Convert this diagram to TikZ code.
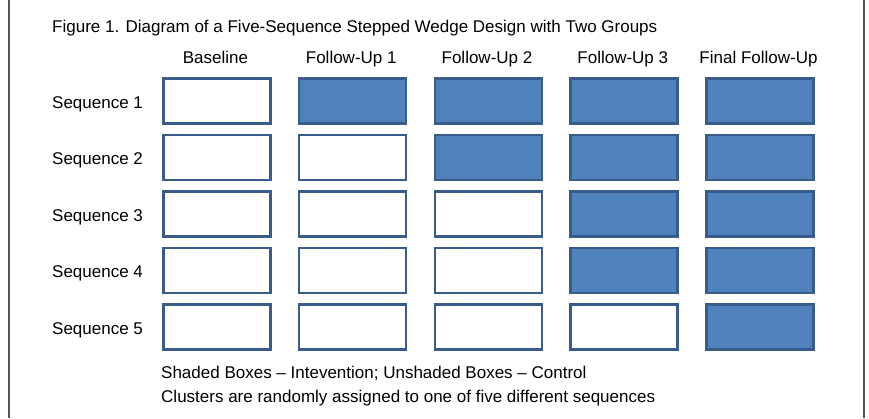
\documentclass[tikz,border=0pt]{standalone}
\usepackage{fontspec}
\setmainfont{Liberation Sans}
\definecolor{boxfill}{HTML}{4F81BD}
\definecolor{boxedge}{HTML}{385D8A}
\definecolor{framegray}{HTML}{555555}
\begin{document}
\begin{tikzpicture}[x=1pt,y=-1pt,
  txt/.style={inner sep=0pt,font=\fontsize{17}{20}\selectfont},
  cell/.style={draw=boxedge,line width=2.7pt,minimum width=107pt,minimum height=45pt,inner sep=0pt,anchor=north west},
  ctrl/.style={cell,fill=white},
  intv/.style={cell,fill=boxfill}]
\useasboundingbox (0,0) rectangle (869,418);
\fill[white] (0,0) rectangle (869,418);
\draw[framegray,line width=1.8pt] (9,0) -- (9,418);
\draw[framegray,line width=1.8pt] (864,0) -- (864,418);
\node[txt,anchor=base west] (title) at (52,32) {Figure 1. Diagram of a Five-Sequence Stepped Wedge Design with Two Groups};
\foreach \j/\lab in {1/Baseline,2/Follow-Up 1,3/Follow-Up 2,4/Follow-Up 3,5/Final Follow-Up}{
  \node[txt,anchor=base] (h\j) at ({162+(\j-1)*135.75+53.5},63) {\lab};
}
\foreach \i/\first in {1/2,2/3,3/4,4/4,5/5}{
  \node[txt,anchor=base west] (s\i) at (52,{77+(\i-1)*56.5+31}) {Sequence \i};
  \foreach \j in {1,...,5}{
    \ifnum\j<\first
      \node[ctrl] (b\i\j) at ({162+(\j-1)*135.75},{77+(\i-1)*56.5}) {};
    \else
      \node[intv] (b\i\j) at ({162+(\j-1)*135.75},{77+(\i-1)*56.5}) {};
    \fi
  }
}
\node[txt,anchor=base west] (leg1) at (161,378) {Shaded Boxes – Intevention; Unshaded Boxes – Control};
\node[txt,anchor=base west] (leg2) at (161,402) {Clusters are randomly assigned to one of five different sequences};
\end{tikzpicture}
\end{document}
